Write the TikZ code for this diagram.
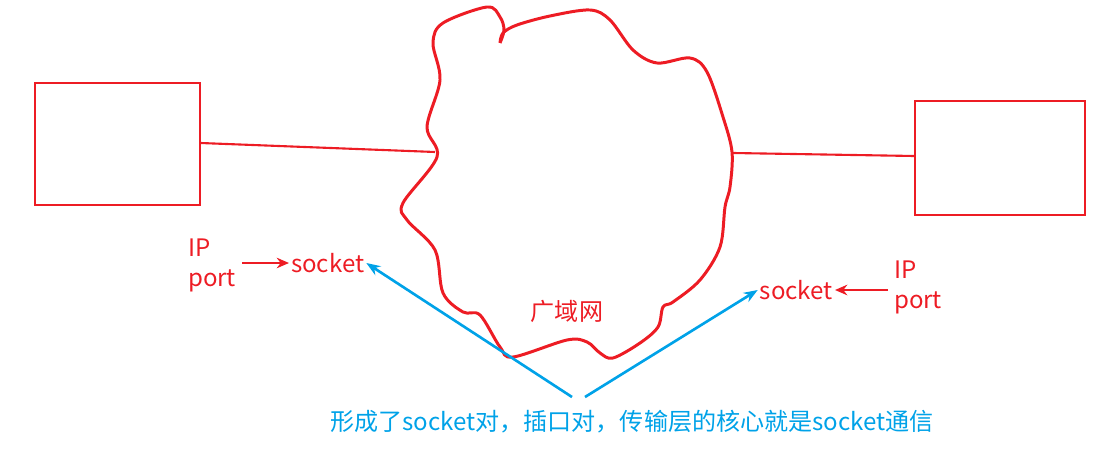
\documentclass[tikz,border=0pt]{standalone}
\usepackage{fontspec}
\setmainfont{Noto Sans CJK SC}
\usetikzlibrary{arrows.meta}
\definecolor{penred}{HTML}{ED1C24}
\definecolor{penblue}{HTML}{00A2E8}
\tikzset{
    hostbox/.style={draw=penred, line width=0.9pt, minimum width=165*0.02cm, minimum height=122*0.02cm},
    redtext/.style={text=penred, font=\fontsize{13.7}{17}\selectfont, inner sep=1pt},
    redarrow/.style={penred, line width=1.2pt, -{Stealth[length=7pt,width=6pt]}},
    bluearrow/.style={penblue, line width=1.5pt, -{Stealth[length=8pt,width=6pt]}}
}
\begin{document}
\begin{tikzpicture}[x=0.02cm, y=-0.02cm]
    \useasboundingbox (0,0) rectangle (1118,459);

    % Hosts
    \node[hostbox, anchor=north west] (hostA) at (34,82) {};
    \node[hostbox, anchor=north west, minimum width=170*0.02cm, minimum height=114*0.02cm] (hostB) at (914,100) {};

    % Wide area network
    \draw[penred, line width=1.7pt, line join=round] plot[smooth, tension=0.55] coordinates {
        (500,43) (503,33) (517,25) (550,16) (590,10) (610,20) (633,50) (657,63) (690,58)
        (707,72) (723,117) (732,152) (730,187) (725,207) (720,247) (700,280) (673,302)
        (663,307) (658,327) (640,343) (613,358) (600,353) (587,342) (567,340) (513,357)
        (500,347) (480,315) (463,312) (443,293) (435,250) (407,220) (403,203) (437,157)
        (427,127) (440,80) (433,43) (443,23) (487,7) (500,17) (504,30) (500,43)};
    \coordinate (wanL) at (435,152);
    \coordinate (wanR) at (733,153);
    \node[redtext] (wan) at (567,311) {广域网};

    % Links
    \draw[penred, line width=1.2pt] (hostA.east |- 0,143) -- (wanL);
    \draw[penred, line width=1.2pt] (wanR) -- (hostB.west |- 0,156);

    % Left socket
    \node[redtext, align=left, anchor=west] (ipportL) at (186,265) {IP\\port};
    \node[redtext, anchor=west] (sockL) at (289,263) {socket};
    \draw[redarrow] (ipportL.east |- sockL) ++(4,0) -- (sockL.west);

    % Right socket
    \node[redtext, anchor=east] (sockR) at (835,290) {socket};
    \node[redtext, align=left, anchor=west] (ipportR) at (892,287) {IP\\port};
    \draw[redarrow] (ipportR.west |- sockR) ++(-4,0) -- (sockR.east);

    % Socket pair
    \node[text=penblue, font=\fontsize{13.7}{17}\selectfont, inner sep=0pt] (note) at (632,422) {形成了socket对，插口对，传输层的核心就是socket通信};
    \coordinate (fromL) at (572,397);
    \coordinate (fromR) at (585,397);
    \draw[bluearrow] (fromL) -- (sockL.east);
    \draw[bluearrow] (fromR) -- (sockR.west);
\end{tikzpicture}
\end{document}
